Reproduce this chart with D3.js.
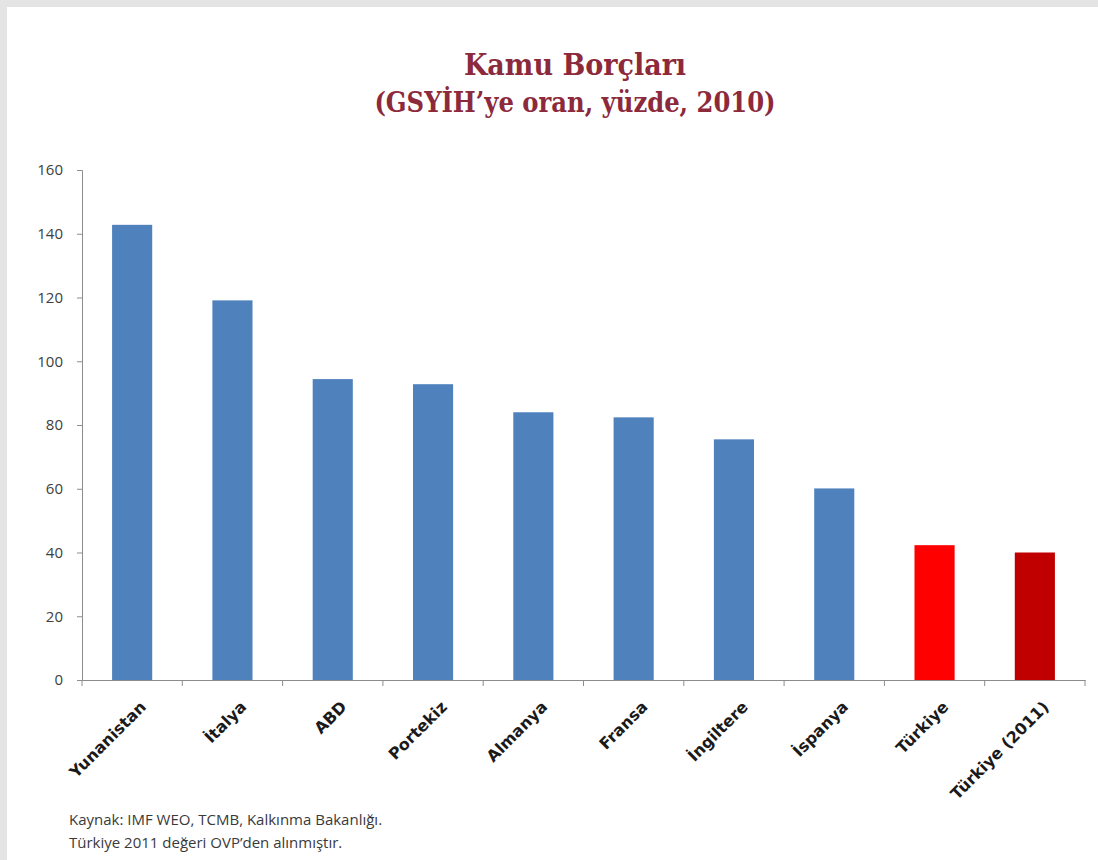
<!DOCTYPE html>
<html>
<head>
<meta charset="utf-8">
<script src="https://cdn.jsdelivr.net/npm/d3@7"></script>
<style>
  body { margin: 0; background: #fff; }
  svg { display: block; }
</style>
</head>
<body>
<div id="chart"></div>
<script>
const width = 1098, height = 860;

// data
const countries = ["Yunanistan", "İtalya", "ABD", "Portekiz", "Almanya", "Fransa", "İngiltere", "İspanya", "Türkiye", "Türkiye (2011)"];
const debt = [142.8, 119.1, 94.4, 92.8, 84.0, 82.4, 75.5, 60.1, 42.3, 40.0];
const barColors = ["#4f81bd", "#4f81bd", "#4f81bd", "#4f81bd", "#4f81bd", "#4f81bd", "#4f81bd", "#4f81bd", "#ff0000", "#c00000"];
const yTicks = [0, 20, 40, 60, 80, 100, 120, 140, 160];
const notes = ["Kaynak: IMF WEO, TCMB, Kalkınma Bakanlığı.", "Türkiye 2011 değeri OVP’den alınmıştır."];

const margin = { left: 82, right: 13, top: 170, bottom: 180 };

let svg = d3.select("#chart")
    .append("svg")
    .attr("width", width)
    .attr("height", height);

// light grey frame on top and left
svg.append("rect").attr("x", 0).attr("y", 0).attr("width", width).attr("height", height).attr("fill", "#e4e4e4");
svg.append("rect").attr("x", 7).attr("y", 7).attr("width", width - 7).attr("height", height - 7).attr("fill", "#fff");

svg.append("text")
    .attr("x", 575).attr("y", 75)
    .attr("text-anchor", "middle")
    .attr("font-family", "DejaVu Serif Condensed, DejaVu Serif, serif")
    .attr("font-weight", "bold")
    .attr("font-size", 30)
    .attr("fill", "#8c2a3c")
    .text("Kamu Borçları");

svg.append("text")
    .attr("x", 575).attr("y", 112)
    .attr("text-anchor", "middle")
    .attr("font-family", "DejaVu Serif Condensed, DejaVu Serif, serif")
    .attr("font-weight", "bold")
    .attr("font-size", 27)
    .attr("fill", "#8c2a3c")
    .text("(GSYİH’ye oran, yüzde, 2010)");

let x = d3.scaleBand()
    .domain(countries)
    .range([margin.left, width - margin.right])
    .paddingInner(0.6)
    .paddingOuter(0.3);

let y = d3.scaleLinear()
    .domain([0, 160])
    .range([height - margin.bottom, margin.top]);

// bars
svg.selectAll("rect.bar")
    .data(countries)
    .enter()
    .append("rect")
    .attr("class", "bar")
    .attr("x", (c) => x(c))
    .attr("y", (c, i) => y(debt[i]))
    .attr("width", x.bandwidth())
    .attr("height", (c, i) => y(0) - y(debt[i]))
    .attr("fill", (c, i) => barColors[i]);

// y axis
let yAxis = svg.append("g")
    .attr("transform", `translate(${margin.left},0)`)
    .call(d3.axisLeft(y).tickValues(yTicks).tickSize(5).tickPadding(14));
yAxis.select(".domain").attr("stroke", "#8c8c8c");
yAxis.selectAll(".tick line").attr("stroke", "#8c8c8c");
yAxis.selectAll(".tick text")
    .attr("font-family", "Open Sans, sans-serif")
    .attr("font-size", 15)
    .attr("fill", "#404040");

// x axis, ticks sit on category boundaries
let xAxis = svg.append("g")
    .attr("transform", `translate(0,${y(0)})`)
    .call(d3.axisBottom(x).tickSize(0).tickPadding(0));
xAxis.select(".domain").attr("stroke", "#8c8c8c");

let plotW = width - margin.right - margin.left;
xAxis.selectAll("line.sep")
    .data(d3.range(countries.length + 1))
    .enter()
    .append("line")
    .attr("class", "sep")
    .attr("x1", (i) => margin.left + i * plotW / countries.length)
    .attr("x2", (i) => margin.left + i * plotW / countries.length)
    .attr("y1", 0)
    .attr("y2", 6)
    .attr("stroke", "#8c8c8c");

xAxis.selectAll(".tick text")
    .attr("font-family", "DejaVu Sans, sans-serif")
    .attr("font-weight", "bold")
    .attr("font-size", 16)
    .attr("fill", "#1a1a1a")
    .attr("text-anchor", "end")
    .attr("y", 0)
    .attr("dy", "0.35em")
    .attr("transform", "translate(11,24) rotate(-45)");

svg.selectAll("text.note")
    .data(notes)
    .enter()
    .append("text")
    .attr("class", "note")
    .attr("x", 69)
    .attr("y", (d, i) => 825 + i * 23)
    .attr("font-family", "Open Sans, sans-serif")
    .attr("font-size", 15)
    .attr("fill", "#3a3a3a")
    .text((d) => d);
</script>
</body>
</html>
